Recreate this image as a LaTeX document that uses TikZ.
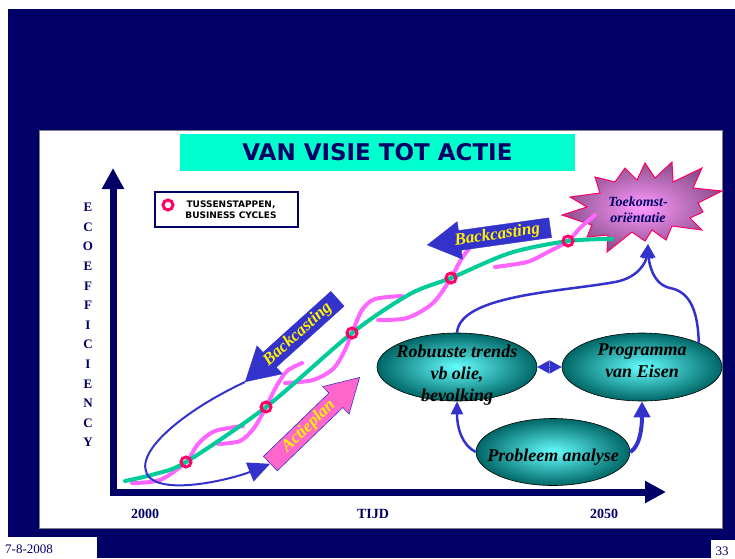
\documentclass[tikz,border=0pt]{standalone}
\usepackage{fontspec}
\setmainfont{Liberation Serif}
\newfontfamily\verdana{DejaVu Sans}
\usetikzlibrary{arrows.meta,shapes.arrows,shapes.geometric}

\definecolor{navy}{RGB}{0,0,102}
\definecolor{titlecyan}{RGB}{0,255,204}
\definecolor{trendgreen}{RGB}{0,204,153}
\definecolor{wavepink}{RGB}{255,102,255}
\definecolor{ringred}{RGB}{255,0,102}
\definecolor{castblue}{RGB}{51,51,204}
\definecolor{planpink}{RGB}{255,102,204}
\definecolor{ovalin}{RGB}{102,255,255}
\definecolor{ovalout}{RGB}{0,102,102}
\definecolor{starin}{RGB}{255,153,255}
\definecolor{starout}{RGB}{140,80,140}

\newcommand{\ovaltext}[2][0pt]{\makebox[0pt]{\smash{\raisebox{#1}{\begin{tabular}{@{}c@{}}#2\end{tabular}}}}}

\tikzset{
  axis/.style={navy, line width=7pt, line join=miter,
    {Triangle[length=21pt,width=21pt]}-{Triangle[length=21pt,width=21pt]}},
  trend/.style={trendgreen, line width=4pt, line cap=round},
  wave/.style={wavepink, line width=4pt, line cap=round},
  ring/.style={circle, draw=ringred, line width=3pt, minimum size=10pt, inner sep=0pt},
  link/.style={castblue, line width=2.5pt, -{Triangle[length=14pt,width=13pt]}},
  castarrow/.style={single arrow, fill=castblue, draw=castblue, text=yellow,
    font=\bfseries\itshape\fontsize{17}{17}\selectfont,
    single arrow head extend=9pt, single arrow tip angle=60,
    inner xsep=2pt, inner ysep=2pt, minimum height=124pt},
  oval/.style={ellipse, draw=black, line width=0.6pt, inner color=ovalin, outer color=ovalout,
    minimum width=160pt, minimum height=68pt, inner sep=0pt,
    font=\bfseries\itshape\fontsize{18}{22}\selectfont},
  axislabel/.style={navy, font=\bfseries\fontsize{14}{14}\selectfont}
}

\begin{document}
\begin{tikzpicture}[x=1pt,y=-1pt]
  \useasboundingbox (0,0) rectangle (735,558);
  \fill[white] (0,0) rectangle (735,558);
  \fill[navy] (8,9) rectangle (735,558);
  \fill[white] (0,537) rectangle (97,558);
  \fill[white] (711,540) rectangle (735,558);
  \draw[gray, fill=white] (39,130) rectangle (722,528);

  \node[fill=titlecyan, minimum width=395pt, minimum height=37pt, text=navy,
        font=\verdana\bfseries\fontsize{23}{23}\selectfont] (title) at (377.5,152.5) {VAN VISIE TOT ACTIE};

  \node[navy, align=center, font=\bfseries\fontsize{13}{19.6}\selectfont] (ylabel) at (88,325)
    {E\\C\\O\\E\\F\\F\\I\\C\\I\\E\\N\\C\\Y};
  \draw[axis] (113,168) -- (113,492) -- (666,492);
  \node[axislabel] (y2000) at (145,514) {2000};
  \node[axislabel] (tijd) at (373,514) {TIJD};
  \node[axislabel] (y2050) at (604,514) {2050};
  \node[navy, font=\fontsize{13}{13}\selectfont] (date) at (29,549) {7-8-2008};
  \node[navy, anchor=west, font=\fontsize{13}{13}\selectfont] (page) at (712,551) {33};

  \node[draw=navy, line width=1.5pt, fill=white, minimum width=143pt, minimum height=35pt] (legend) at (226.5,209.5) {};
  \node[ring] (legring) at (168,205) {};
  \node[align=center, font=\verdana\bfseries\fontsize{9}{11.5}\selectfont] (legtext) at (231,209.5)
    {TUSSENSTAPPEN,\\BUSINESS CYCLES};

  \coordinate (m1) at (186,462);
  \coordinate (m2) at (266,407);
  \coordinate (m3) at (352,333);
  \coordinate (m4) at (451,278);
  \coordinate (m5) at (568,241);
  \coordinate (starbot) at (648,244);

  \shade[draw=ringred, line width=1pt, inner color=starin, outer color=starout]
    (672,162) -- (673,182) -- (702,168) -- (693,188) -- (722,191) -- (698,203) -- (703,212)
    -- (690,218) -- (702,230) -- (672,226) -- (666,240) -- (652,230) -- (645,241) -- (632,232)
    -- (607,252) -- (608,235) -- (587,237) -- (592,225) -- (562,215) -- (587,207) -- (570,197)
    -- (600,193) -- (595,177) -- (615,182) -- (625,168) -- (637,180) -- (645,163) -- (655,178) -- cycle;
  \node[navy, align=center, font=\bfseries\itshape\fontsize{14}{16}\selectfont] (star) at (638,210)
    {Toekomst-\\oriëntatie};

  \draw[wave] plot[smooth] coordinates {(132,483) (160,480) (m1) (198,444) (215,431) (243,426)};
  \draw[wave] plot[smooth] coordinates {(218,444) (240,441) (254,428) (m2) (276,387) (287,371) (302,363)};
  \draw[wave] plot[smooth] coordinates {(285,383) (313,380) (333,369) (344,352) (m3) (362,310) (375,299) (402,296)};
  \draw[wave] plot[smooth] coordinates {(378,320) (407,318) (433,303) (m4) (462,258) (476,240)};
  \draw[wave] plot[smooth] coordinates {(495,267) (527,262) (548,252) (m5) (580,228) (595,215)};
  \draw[trend] plot[smooth] coordinates {(125,481) (155,474) (m1) (m2) (m3) (410,294) (m4) (510,253) (m5) (612,239)};
  \foreach \m in {1,...,5}
    \node[ring] (ring\m) at (m\m) {};

  \node[castarrow, rotate=42, shape border rotate=180, anchor=tip] (cast1) at (245,382) {Backcasting};
  \node[castarrow, rotate=8, shape border rotate=180, anchor=tip] (cast2) at (427,245) {Backcasting};
  \node[castarrow, fill=planpink, draw=castblue, line width=0.6pt, rotate=44, anchor=tip] (plan) at (360,377) {Actieplan};

  \draw[castblue, line width=2pt, -{Triangle[length=22pt,width=20pt]}]
    (cast1.tip) .. controls (185,410) and (128,455) .. (150,478) .. controls (170,495) and (235,478) .. (plan.tail);

  \node[oval] (rob) at (457,367) {\ovaltext[-12pt]{Robuuste trends\\vb olie,\\bevolking}};
  \node[oval] (prog) at (642,367) {\ovaltext[1pt]{Programma\\van Eisen}};
  \node[oval, minimum width=154pt, minimum height=67pt] (prob) at (553,452) {\ovaltext[-9pt]{Probleem analyse}};

  \draw[link] (rob.north) .. controls (460,295) and (560,292) .. (615,282) .. controls (638,278) and (646,262) .. (starbot);
  \draw[link] (prog.north east) .. controls (698,315) and (692,292) .. (670,288) .. controls (652,284) and (649,262) .. (starbot);
  \draw[link, -{Triangle[length=13pt,width=12pt]}] (prob.west) .. controls (462,445) and (457,428) .. (rob.south);
  \draw[link, line width=4pt, -{Triangle[length=16pt,width=16pt]}] (prob.east) .. controls (640,446) and (642,428) .. (prog.south);
  \draw[castblue, line width=1pt, {Triangle[length=12pt,width=13pt]}-{Triangle[length=12pt,width=13pt]}] (rob) -- (prog);
\end{tikzpicture}
\end{document}
